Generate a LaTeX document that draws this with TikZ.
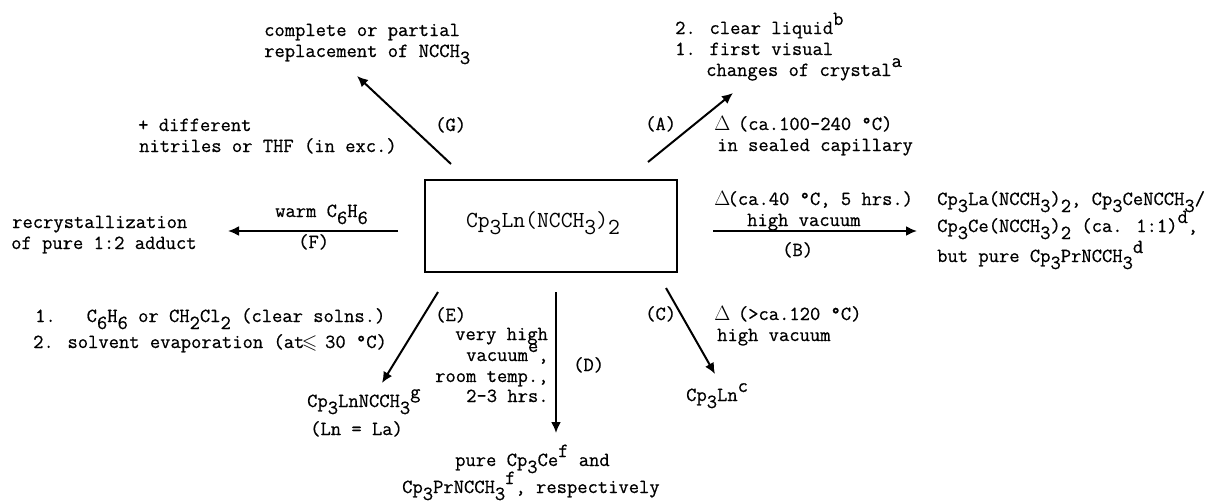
\documentclass[tikz,border=0pt]{standalone}
\usepackage{amssymb}
\usepackage{fontspec}
\newfontfamily\tw[FakeBold=0.6]{Latin Modern Mono}
\usetikzlibrary{arrows.meta}
\tikzset{
 lbl/.style={anchor=base west,inner sep=0pt,font=\fontsize{20}{22}\selectfont\tw},
 arr/.style={draw=black,line width=2pt,-{Latex[length=11pt,width=10pt]}},
}
\newcommand{\dn}[1]{\raisebox{-7pt}{#1}}
\newcommand{\up}[1]{\raisebox{9pt}{#1}}
\newcommand{\dlt}{\makebox[10.4pt]{$\Delta$}}
\newcommand{\lsl}{\makebox[10.4pt]{$\leqslant$}}
\begin{document}
\begin{tikzpicture}[x=1pt,y=-1pt]
\useasboundingbox[fill=white] (0,0) rectangle (1210,501);
\node[draw,line width=1.5pt,minimum width=252pt,minimum height=92pt,anchor=north west,inner sep=0pt] (box) at (424,179) {};
\node[anchor=base,inner sep=0pt,font=\fontsize{23}{26}\selectfont\ttfamily] (boxt) at (543,227) {Cp\dn{3}Ln(NCCH\dn{3})\dn{2}};
\coordinate (tA) at (648,162); \coordinate (hA) at (733,93);
\coordinate (tB) at (713,231); \coordinate (hB) at (917,231);
\coordinate (tC) at (666,288); \coordinate (hC) at (715,374);
\coordinate (tD) at (556,292); \coordinate (hD) at (556,433);
\coordinate (tE) at (438,292); \coordinate (hE) at (382,383);
\coordinate (tF) at (398,231); \coordinate (hF) at (228,231);
\coordinate (tG) at (451,164); \coordinate (hG) at (357,76);
\foreach \a in {A,B,C,D,E,F,G} \draw[arr] (t\a) -- (h\a);
\node[lbl] (l1) at (264,36) {complete or partial};
\node[lbl] (l2) at (264,57) {replacement of NCCH\dn{3}};
\node[lbl] (l3) at (138,131) {+ different};
\node[lbl] (l4) at (139,152) {nitriles or THF (in exc.)};
\node[lbl] (G) at (435,131) {(G)};
\node[lbl] (A) at (645,130) {(A)};
\node[lbl] (a1) at (675,34) {2. clear liquid\up{b}};
\node[lbl] (a2) at (675,55) {1. first visual};
\node[lbl] (a3) at (706,76) {changes of crystal\up{a}};
\node[lbl] (a4) at (717,130) {\dlt{} (ca.100-240 °C)};
\node[lbl] (a5) at (717,151) {in sealed capillary};
\node[lbl] (b1) at (717,205) {\dlt(ca.40 °C, 5 hrs.)};
\node[lbl] (b2) at (747,226) {high vacuum};
\node[lbl] (b3) at (782,256) {(B)};
\node[lbl] (c1) at (937,205) {Cp\dn{3}La(NCCH\dn{3})\dn{2}, Cp\dn{3}CeNCCH\dn{3}/};
\node[lbl] (c2) at (937,232) {Cp\dn{3}Ce(NCCH\dn{3})\dn{2} (ca. 1:1)\up{d},};
\node[lbl] (c3) at (937,262) {but pure Cp\dn{3}PrNCCH\dn{3}\up{d}};
\node[lbl] (f1) at (275,217) {warm C\dn{6}H\dn{6}};
\node[lbl] (f2) at (298,248) {(F)};
\node[lbl] (r1) at (12,228) {recrystallization};
\node[lbl] (r2) at (11,249) {of pure 1:2 adduct};
\node[lbl] (e1) at (35,322) {1.\ \ \ C\dn{6}H\dn{6} or CH\dn{2}Cl\dn{2} (clear solns.)};
\node[lbl] (e2) at (33,348) {2. solvent evaporation (at\lsl{} 30 °C)};
\node[lbl] (E) at (435,321) {(E)};
\node[lbl] (ln1) at (307,407) {Cp\dn{3}LnNCCH\dn{3}\up{g}};
\node[lbl] (ln2) at (310,435) {(Ln = La)};
\node[lbl] (d1) at (455,340) {very high};
\node[lbl] (d2) at (466,361) {vacuum\up{e},};
\node[lbl] (d3) at (435,382) {room temp.,};
\node[lbl] (d4) at (466,402) {2-3 hrs.};
\node[lbl] (D) at (573,371) {(D)};
\node[lbl] (C) at (645,320) {(C)};
\node[lbl] (c4) at (717,320) {\dlt{} (>ca.120 °C)};
\node[lbl] (c5) at (717,341) {high vacuum};
\node[lbl] (c6) at (686,401) {Cp\dn{3}Ln\up{c}};
\node[lbl] (p1) at (455,466) {pure Cp\dn{3}Ce\up{f} and};
\node[lbl] (p2) at (402,493) {Cp\dn{3}PrNCCH\dn{3}\up{f}, respectively};
\end{tikzpicture}
\end{document}
